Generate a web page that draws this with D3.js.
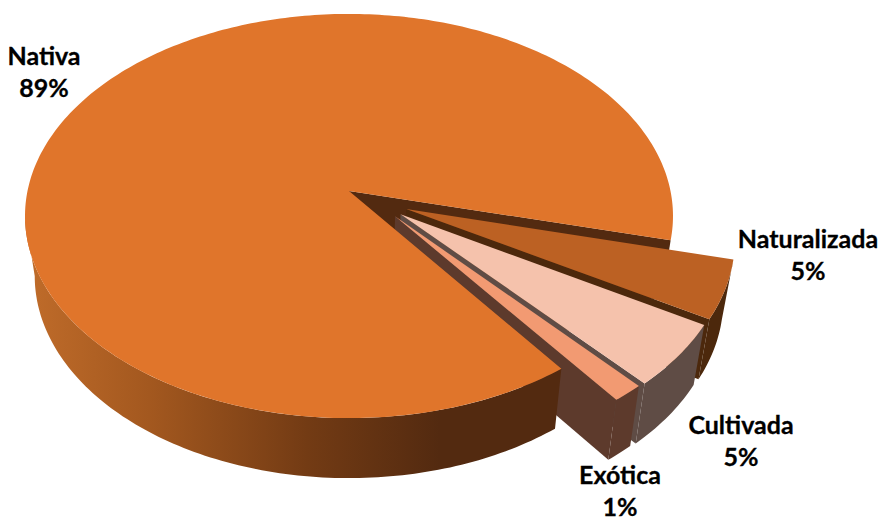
<!DOCTYPE html>
<html lang="es">
<head>
<meta charset="utf-8">
<title>Origen de las especies</title>
<script src="https://cdn.jsdelivr.net/npm/d3@7"></script>
<style>
html,body{margin:0;padding:0;background:#fff}
svg{display:block}
text{font-family:Lato,"Open Sans",sans-serif;font-weight:700;fill:#000;stroke:#000;stroke-width:.3px}
</style>
</head>
<body>
<svg id="chart" width="879" height="517" viewBox="0 0 879 517"></svg>
<script>
const categories = ["Nativa", "Naturalizada", "Cultivada", "Exótica"];
const values = [89, 4.6, 5, 1.4];
const explodeRight = [0, 0.176, 0.158, 0.141];
const explodeFront = [0, 0.09, 0.115, 0.125];

const topColors = ["#e0752b", "#bc6123", "#f5c2ac", "#f29a72"];
const wallColors = ["#532a10", "#4c280c", "#5f4c45", "#5d3a2c"];
const labelCenters = [[44, 56], [808, 239], [741, 425], [620, 475]];

const rad = d => d * Math.PI / 180;

// Perspective projection of the unit disc (u right, v towards the viewer)
const cx = 349, cy = 191, persp = 0.1238, ax = 321.5, ay = 199;
const depth = 60, shrink = 0.97;
const project = ([u, v]) => {
  const w = 1 - persp * v;
  return [cx + ax * u / w, cy + ay * v / w];
};
const lower = ([x, y]) => [cx + (x - cx) * shrink, y + depth];

const pie = d3.pie().sort(null).startAngle(rad(143.5)).endAngle(rad(143.5 + 360));
const slices = pie(values).map((s, i) => ({
  ...s, i, off: [explodeRight[i], explodeFront[i]]
}));

const line = d3.line();
const onDisc = (s, a) => [s.off[0] + Math.sin(a), s.off[1] - Math.cos(a)];
const arcPts = (s, from = s.startAngle, to = s.endAngle) => {
  const n = Math.max(8, Math.ceil((to - from) / rad(1)));
  return d3.range(n + 1).map(k => project(onDisc(s, from + (to - from) * k / n)));
};
const tip = s => project(s.off);
const topPath = s => line([tip(s), ...arcPts(s)]) + "Z";
const rimPath = (s, from = s.startAngle, to = s.endAngle) => {
  const a = arcPts(s, from, to);
  return line([...a, ...a.slice().reverse().map(lower)]) + "Z";
};
const radialWall = s => {
  const t = tip(s), e = project(onDisc(s, s.endAngle));
  return line([t, e, lower(e), lower(t)]) + "Z";
};

const svg = d3.select("#chart");
const grad = svg.append("defs").append("linearGradient")
  .attr("id", "rimGrad").attr("gradientUnits", "userSpaceOnUse")
  .attr("x1", 25).attr("x2", 440).attr("y1", 0).attr("y2", 0);
grad.selectAll("stop")
  .data([[0, "#c06c2a"], [0.3, "#a3581f"], [0.68, "#733b14"], [1, "#532a10"]])
  .join("stop")
  .attr("offset", d => d[0]).attr("stop-color", d => d[1]);

const main = slices[0], exploded = slices.slice(1);

// Inner wall of the main slice lies under everything else
svg.append("path").attr("d", radialWall(main)).attr("fill", wallColors[0]);

// Exploded slices, back to front
const g = svg.selectAll("g.slice").data(exploded).join("g").attr("class", "slice");
g.append("path").attr("d", d => radialWall(d)).attr("fill", d => wallColors[d.i]);
g.append("path").attr("d", d => rimPath(d)).attr("fill", d => wallColors[d.i]);
g.append("path").attr("d", d => topPath(d)).attr("fill", d => topColors[d.i]);

// Main slice sits in front of the exploded walls; the rim runs to the left silhouette
svg.append("path").attr("d", rimPath(main, main.startAngle, Math.PI + Math.acos(persp)))
  .attr("fill", "url(#rimGrad)");
svg.append("path").attr("d", topPath(main)).attr("fill", topColors[0]);

// Labels
const labels = svg.selectAll("g.label").data(slices).join("g")
  .attr("class", "label")
  .attr("transform", d => `translate(${labelCenters[d.i][0]},${labelCenters[d.i][1]})`);
labels.append("text").attr("text-anchor", "middle").attr("dy", "0.35em")
  .attr("font-size", 25).text(d => categories[d.i]);
labels.append("text").attr("text-anchor", "middle").attr("y", 32).attr("dy", "0.35em")
  .attr("font-size", 25).text(d => `${Math.round(d.value)}%`);
</script>
</body>
</html>
